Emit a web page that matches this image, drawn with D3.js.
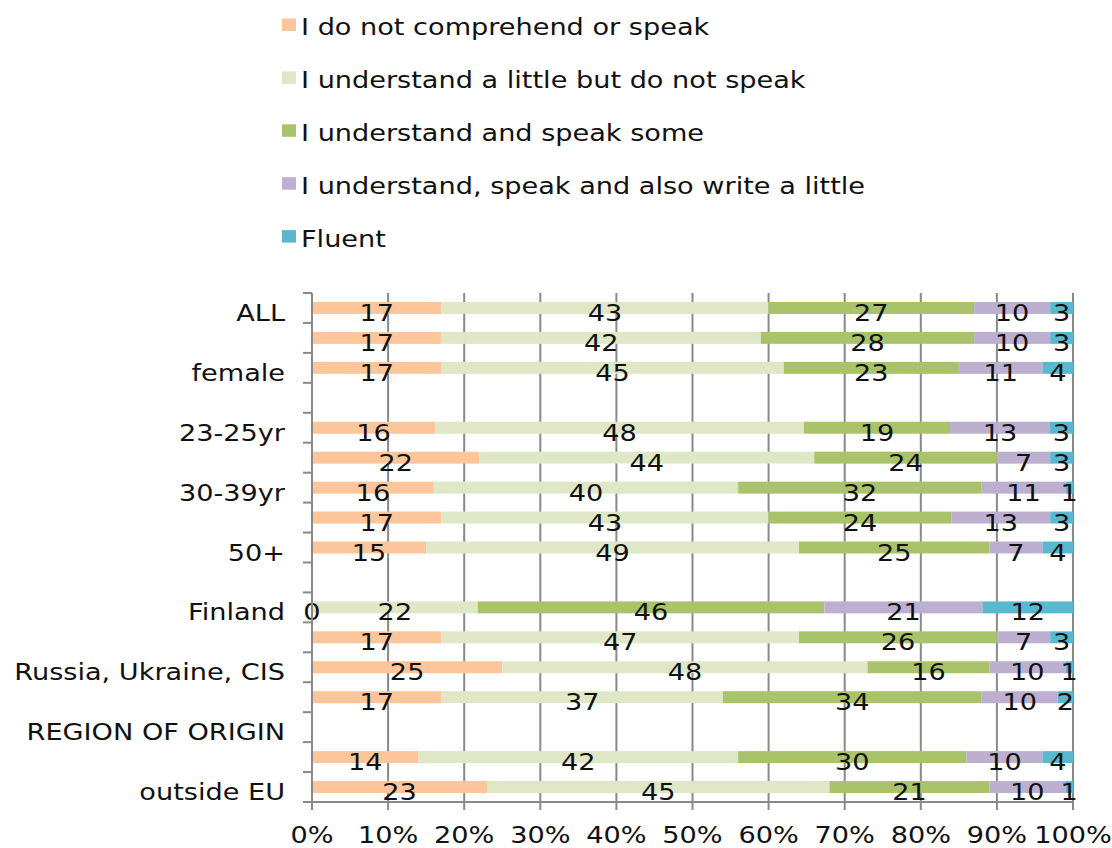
<!DOCTYPE html>
<html><head><meta charset="utf-8">
<script src="https://cdn.jsdelivr.net/npm/d3@7"></script>
<style>body{margin:0;background:#fff}svg text{font-family:"DejaVu Sans",Verdana,sans-serif;fill:#111}</style>
</head><body>
<svg id="c" width="1112" height="848"></svg>
<script>
const categories = ["ALL","male","female","AGE","23-25yr","26-29yr","30-39yr","40-49yr","50+","COUNTRY OF ORIGIN","Finland","Estonia","Russia, Ukraine, CIS","other","REGION OF ORIGIN","EU","outside EU"];
const shownLabels = ["ALL","","female","","23-25yr","","30-39yr","","50+","","Finland","","Russia, Ukraine, CIS","","REGION OF ORIGIN","","outside EU"];
const seriesNames = ["I do not comprehend or speak","I understand a little but do not speak","I understand and speak some","I understand, speak and also write a little","Fluent"];
const colors = ["#FCC69A","#DFE7C6","#A8C36A","#BDAFCF","#59B8CF"];
const notComprehend = [17,17,17,null,16,22,16,17,15,null,0,17,25,17,null,14,23];
const understandLittle = [43,42,45,null,48,44,40,43,49,null,22,47,48,37,null,42,45];
const speakSome = [27,28,23,null,19,24,32,24,25,null,46,26,16,34,null,30,21];
const writeLittle = [10,10,11,null,13,7,11,13,7,null,21,7,10,10,null,10,10];
const fluent = [3,3,4,null,3,3,1,3,4,null,12,3,1,2,null,4,1];
const xTicks = [0,0.1,0.2,0.3,0.4,0.5,0.6,0.7,0.8,0.9,1];

(function(){
const seriesVals = [notComprehend, understandLittle, speakSome, writeLittle, fluent];
const SX = 1.155, FS = 23.5;
const svg = d3.select("#c");
const pL = 312, pR = 1073, pT = 293, pB = 802;
const x = d3.scaleLinear().domain([0,1]).range([pL,pR]);
const y = d3.scaleBand().domain(categories).range([pT,pB]).paddingInner(0.6).paddingOuter(0.3);
const step = y.step();

function txt(g, s, tx, ty, anchor){
  return g.append("text").text(s).attr("text-anchor",anchor||"start")
    .attr("font-size",FS).attr("transform",`translate(${tx},${ty}) scale(${SX},1)`);
}

svg.append("g").selectAll("line").data(xTicks.slice(1)).join("line")
  .attr("x1",d=>x(d)).attr("x2",d=>x(d)).attr("y1",pT).attr("y2",pB)
  .attr("stroke","#898989").attr("stroke-width",2);

const rows = categories.map((c,i)=>{
  const o = {cat:c};
  seriesNames.forEach((s,j)=>o[s]=seriesVals[j][i]||0);
  return o;
}).filter((d,i)=>notComprehend[i]!==null);
const stack = d3.stack().keys(seriesNames).offset(d3.stackOffsetExpand);
const stacked = stack(rows);
const gBars = svg.append("g");
stacked.forEach((layer,j)=>{
  gBars.append("g").attr("fill",colors[j]).selectAll("rect").data(layer).join("rect")
    .attr("x",d=>x(d[0])).attr("width",d=>Math.max(0,x(d[1])-x(d[0])))
    .attr("y",d=>y(d.data.cat)).attr("height",y.bandwidth());
});
const gLab = svg.append("g");
stacked.forEach((layer,j)=>{
  layer.forEach(d=>{
    const cx = (x(d[0])+x(d[1]))/2;
    const cy = y(d.data.cat)+y.bandwidth()/2+13;
    txt(gLab, d.data[seriesNames[j]], cx, cy, "middle");
  });
});

const ax = svg.append("g").attr("stroke","#898989").attr("stroke-width",2);
ax.append("line").attr("x1",pL).attr("x2",pL).attr("y1",pT).attr("y2",pB);
ax.append("line").attr("x1",pL-1).attr("x2",pR+1).attr("y1",pB).attr("y2",pB);
const bounds = d3.range(categories.length+1).map(i=>pT+i*step);
ax.selectAll(".yt").data(bounds).join("line").attr("x1",pL-9).attr("x2",pL).attr("y1",d=>d).attr("y2",d=>d);
ax.selectAll(".xt").data(xTicks).join("line").attr("x1",d=>x(d)).attr("x2",d=>x(d)).attr("y1",pB).attr("y2",pB+8);

const gY = svg.append("g");
categories.forEach((c,i)=>{
  if(shownLabels[i]) txt(gY, shownLabels[i], 285, y(c)+y.bandwidth()/2+13, "end");
});
const fmt = d3.format(".0%");
const gX = svg.append("g");
xTicks.forEach(t=>txt(gX, fmt(t), x(t), 842.5, "middle"));

const gL = svg.append("g");
seriesNames.forEach((s,j)=>{
  const by = 35 + 52.9*j;
  gL.append("rect").attr("x",282).attr("y",by-16.5).attr("width",14).attr("height",12.5).attr("fill",colors[j]);
  txt(gL, s, 301, by, "start");
});
})();
</script>
</body></html>
